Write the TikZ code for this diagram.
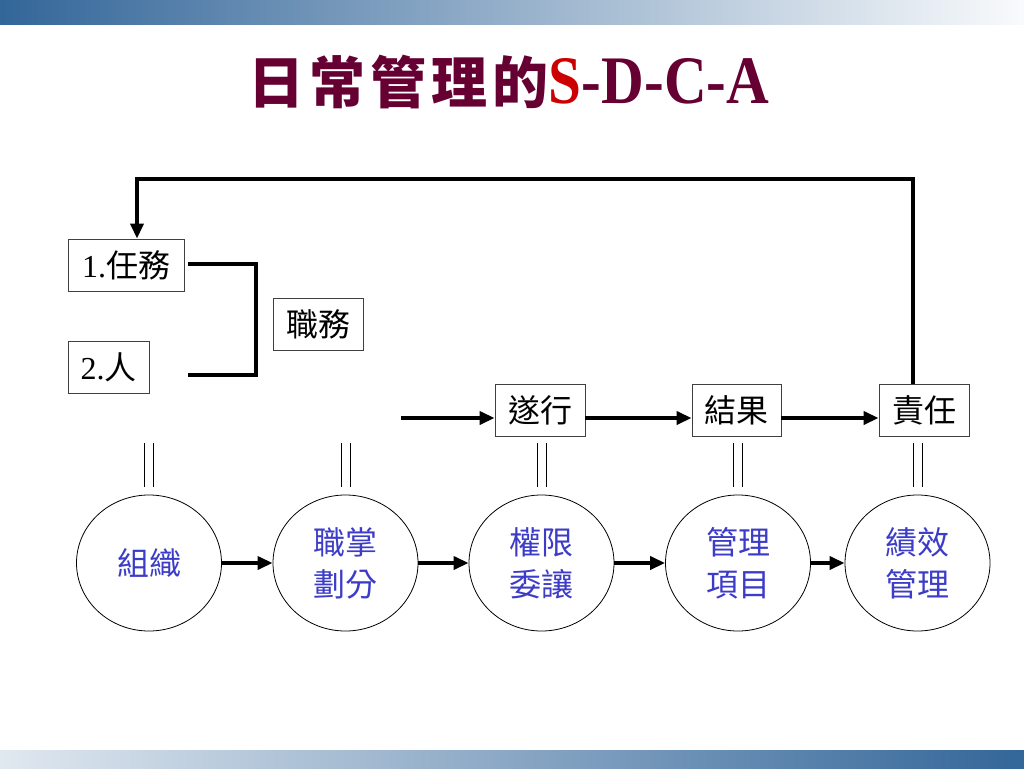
\documentclass[tikz,border=0pt]{standalone}
\usepackage{fontspec}
\usepackage{graphicx}
\setmainfont{Liberation Serif}
\newfontfamily\cjk{Noto Sans CJK TC}
\newfontfamily\cjktitle[LetterSpace=9]{Noto Sans CJK TC}
\usetikzlibrary{arrows.meta,calc,positioning,shapes.geometric}
\definecolor{titlered}{HTML}{660033}
\definecolor{sred}{HTML}{CC0000}
\definecolor{goalblue}{HTML}{3C3CC8}
\definecolor{barblue}{HTML}{336699}
\newcommand{\zh}[1]{{\cjk #1}}
\tikzset{%
	box/.style   = {draw=black!75, line width=0.8pt, rectangle, minimum height=52pt, inner sep=0pt, font=\fontsize{32}{38}\selectfont},
	goal/.style  = {draw, ellipse, line width=0.8pt, minimum width=145pt, minimum height=136pt, inner sep=0pt, text=goalblue, align=center, font=\fontsize{32}{42}\selectfont\cjk},
	arrow/.style = {line width=3.5pt, -{Triangle[length=15pt,width=13pt]}},
	link/.style  = {line width=3.5pt},
	equal/.style = {line width=0.8pt},
}

\begin{document}
\begin{tikzpicture}[x=1pt,y=-1pt]
	\useasboundingbox (0,0) rectangle (1024,768);
	\shade[left color=barblue, middle color=barblue!35!white, right color=barblue!3!white] (0,0) rectangle (1024,25);
	\shade[left color=barblue!15!white, middle color=barblue!40!white, right color=barblue] (0,750) rectangle (1024,768);
	
	\node (title) at (509,82) {\color{titlered}\fontsize{56}{60}\selectfont{\cjktitle\bfseries 日常管理的}\scalebox{0.87}[1]{\fontsize{68}{70}\selectfont\bfseries\textcolor{sred}{S}-D-C-A}};
	
	\node[box, minimum width=116pt] (task) at (126,265) {1.\zh{任務}};
	\node[box, minimum width=81pt] (person) at (108.5,367) {2.\zh{人}};
	\node[box, minimum width=90pt] (duty) at (318,324.5) {\zh{職務}};
	\node[box, minimum width=90pt] (exec) at (540,410) {\zh{遂行}};
	\node[box, minimum width=89pt] (result) at (736.5,410) {\zh{結果}};
	\node[box, minimum width=90pt] (resp) at (924,410) {\zh{責任}};
	
	\node[goal] (org) at (149,563) {組織};
	\node[goal] (split) at (345.5,563) {職掌\\劃分};
	\node[goal] (deleg) at (541.5,563) {權限\\委讓};
	\node[goal] (item) at (738,563) {管理\\項目};
	\node[goal] (perf) at (917.5,563) {績效\\管理};
	
	\foreach \a/\b in {org/split,split/deleg,deleg/item,item/perf} \draw[arrow] (\a) -- (\b);
	\foreach \n in {org,split,deleg,item,perf} {
		\draw[equal] ($(\n.north)+(-4.5,-8)$) -- ($(\n.north)+(-4.5,-52)$);
		\draw[equal] ($(\n.north)+(4.5,-8)$) -- ($(\n.north)+(4.5,-52)$);
	}
	
	% upper chain
	\coordinate (start) at (401,418);
	\draw[arrow] (start) -- (start -| exec.west);
	\draw[arrow] ($(exec.east)+(0,8)$) -- ($(result.west)+(0,8)$);
	\draw[arrow] ($(result.east)+(0,8)$) -- ($(resp.west)+(0,8)$);
	
	% feedback to the first task
	\coordinate (fbR) at (913,179);
	\coordinate (fbL) at (137,179);
	\draw[arrow] (resp.north -| fbR) -- (fbR) -- (fbL) -- (fbL |- task.north);
	
	\coordinate (brA) at (188,264);
	\coordinate (brB) at (188,375);
	\coordinate (brC) at (256,375);
	\draw[link] (brA) -| (brC) -- (brB);
\end{tikzpicture}
\end{document}
